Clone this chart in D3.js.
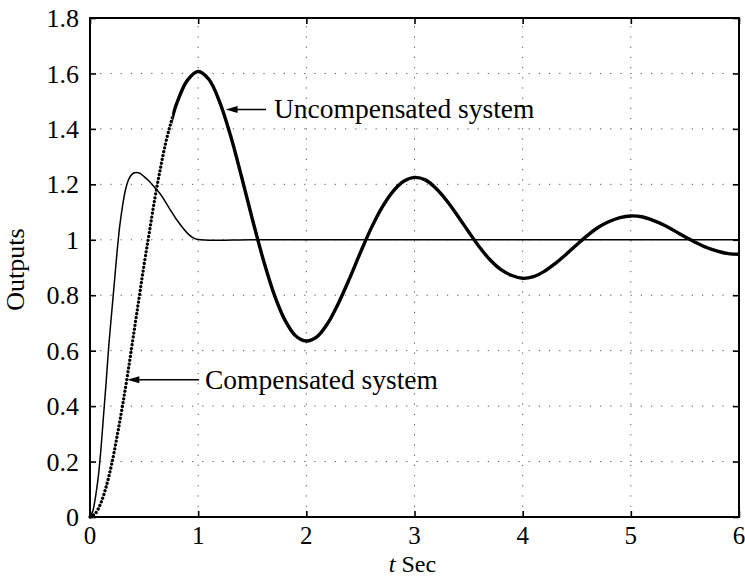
<!DOCTYPE html>
<html><head><meta charset="utf-8">
<script src="https://cdn.jsdelivr.net/npm/d3@7"></script>
<style>
html,body{margin:0;padding:0;background:#fff;}
svg{display:block;}
text{font-family:"Liberation Serif","Times New Roman",serif;fill:#000;}
</style></head>
<body><svg id="chart" width="745" height="578"></svg>
<script>
// ---- data ----
const xTicks = [0, 1, 2, 3, 4, 5, 6];
const yTicks = [0, 0.2, 0.4, 0.6, 0.8, 1, 1.2, 1.4, 1.6, 1.8];
const yTickLabels = ["0", "0.2", "0.4", "0.6", "0.8", "1", "1.2", "1.4", "1.6", "1.8"];

// Uncompensated system (thick line)
const uncompT = [0,0.05,0.1,0.15,0.2,0.25,0.3,0.35,0.4,0.45,0.5,0.55,0.6,0.65,0.7,0.75,0.8,0.9,1.0,
  1.1,1.2,1.3,1.4,1.5,1.6,1.7,1.8,1.9,2.0,2.1,2.2,2.3,2.4,2.5,2.6,2.7,2.8,2.9,3.0,
  3.1,3.2,3.3,3.4,3.5,3.6,3.7,3.8,3.9,4.0,4.1,4.2,4.3,4.4,4.5,4.6,4.7,4.8,4.9,5.0,
  5.1,5.2,5.3,5.4,5.5,5.6,5.7,5.8,5.9,6.0];
const uncompY = [0,0.013,0.05,0.11,0.19,0.29,0.40,0.52,0.65,0.78,0.91,1.03,1.15,1.255,1.35,1.425,1.49,1.575,1.607,
  1.578,1.496,1.375,1.229,1.076,0.931,0.806,0.712,0.654,0.635,0.651,0.700,0.774,0.861,0.954,1.042,1.117,1.174,1.211,1.225,
  1.216,1.185,1.140,1.086,1.029,0.974,0.927,0.892,0.871,0.861,0.867,0.886,0.914,0.947,0.982,1.016,1.045,1.066,1.080,1.086,
  1.083,1.071,1.054,1.033,1.011,0.990,0.972,0.959,0.950,0.948];
const uncompDottedUntil = 0.76;

// Compensated system (thin line)
const compT = [0,0.025,0.05,0.075,0.1,0.125,0.15,0.175,0.2,0.225,0.25,0.275,0.3,0.325,0.35,0.375,0.4,0.43,0.46,
  0.5,0.55,0.6,0.65,0.7,0.75,0.8,0.85,0.9,0.95,1.0,1.5,2,3,4,5,6];
const compY = [0,0.02,0.07,0.14,0.24,0.365,0.49,0.625,0.735,0.845,0.955,1.05,1.12,1.175,1.21,1.23,1.24,1.243,1.24,
  1.228,1.21,1.188,1.165,1.135,1.103,1.073,1.047,1.024,1.008,1.001,1.0,1.0,1.0,1.0,1.0,1.0];

const xLabel = "Sec";
const yLabel = "Outputs";
const noteUncomp = "Uncompensated system";
const noteComp = "Compensated system";

// ---- drawing ----
const svg = d3.select("#chart");
const L = 90, R = 739, T = 18, B = 517;
const x = d3.scaleLinear().domain([0, 6]).range([L, R]);
const y = d3.scaleLinear().domain([0, 1.8]).range([B, T]);

// grid (sparse dots)
const grid = svg.append("g").attr("stroke", "#555").attr("stroke-width", 1)
  .attr("stroke-dasharray", "1.2,9").attr("fill", "none");
xTicks.slice(1, -1).forEach(v => grid.append("line")
  .attr("x1", x(v)).attr("x2", x(v)).attr("y1", B).attr("y2", T));
yTicks.slice(1, -1).forEach(v => grid.append("line")
  .attr("x1", L).attr("x2", R).attr("y1", y(v)).attr("y2", y(v)));

// axes with inward ticks on all sides
const fmtY = (d) => yTickLabels[yTicks.indexOf(d)];
const axL = svg.append("g").attr("transform", `translate(${L},0)`)
  .call(d3.axisRight(y).tickValues(yTicks).tickSize(6).tickFormat(""));
const axR = svg.append("g").attr("transform", `translate(${R},0)`)
  .call(d3.axisLeft(y).tickValues(yTicks).tickSize(6).tickFormat(""));
const axB = svg.append("g").attr("transform", `translate(0,${B})`)
  .call(d3.axisTop(x).tickValues(xTicks).tickSize(6).tickFormat(""));
const axT = svg.append("g").attr("transform", `translate(0,${T})`)
  .call(d3.axisBottom(x).tickValues(xTicks).tickSize(6).tickFormat(""));
[axL, axR, axB, axT].forEach(a => {
  a.select(".domain").remove();
  a.selectAll(".tick line").attr("stroke", "#000").attr("stroke-width", 1.6);
});
svg.append("rect").attr("x", L).attr("y", T).attr("width", R - L).attr("height", B - T)
  .attr("fill", "none").attr("stroke", "#000").attr("stroke-width", 2);

// tick labels
svg.append("g").selectAll("text").data(yTicks).join("text")
  .attr("x", L - 11).attr("y", d => y(d)).attr("dy", "0.35em")
  .attr("text-anchor", "end").attr("font-size", 26).text(fmtY);
svg.append("g").selectAll("text").data(xTicks).join("text")
  .attr("x", d => x(d)).attr("y", B + 27)
  .attr("text-anchor", "middle").attr("font-size", 25).text(d => String(d));

// axis titles
const xt = svg.append("text").attr("x", (L + R) / 2 - 2).attr("y", 572)
  .attr("text-anchor", "middle").attr("font-size", 24);
xt.append("tspan").attr("font-style", "italic").text("t");
xt.append("tspan").text(" " + xLabel);
svg.append("text").attr("transform", `translate(24,${(T + B) / 2 + 2}) rotate(-90)`)
  .attr("text-anchor", "middle").attr("font-size", 26).text(yLabel);

// curves
const uncomp = uncompT.map((t, i) => ({t, v: uncompY[i]}));
const comp = compT.map((t, i) => ({t, v: compY[i]}));
const line = d3.line().x(d => x(d.t)).y(d => y(d.v)).curve(d3.curveCatmullRom.alpha(0.5));

svg.append("path").datum(comp).attr("d", line).attr("fill", "none")
  .attr("stroke", "#000").attr("stroke-width", 1.5);

const dottedPart = uncomp.filter(d => d.t <= 0.8);
const solidPart = uncomp.filter(d => d.t >= 0.7);
const clipId = "clipDot";
svg.append("clipPath").attr("id", clipId).append("rect")
  .attr("x", L - 5).attr("y", 0).attr("width", x(uncompDottedUntil) - L + 5).attr("height", 578);
svg.append("path").datum(dottedPart).attr("d", line).attr("fill", "none")
  .attr("stroke", "#000").attr("stroke-width", 3.3).attr("stroke-linecap", "round")
  .attr("stroke-dasharray", "0.01,3.9").attr("clip-path", `url(#${clipId})`);

svg.append("clipPath").attr("id", "clipSolid").append("rect")
  .attr("x", x(uncompDottedUntil)).attr("y", 0).attr("width", R - x(uncompDottedUntil) + 2).attr("height", 578);
svg.append("path").datum(solidPart).attr("d", line).attr("fill", "none")
  .attr("stroke", "#000").attr("stroke-width", 3.4).attr("stroke-linejoin", "round")
  .attr("clip-path", "url(#clipSolid)");

// annotations with arrows
function arrow(x1, y1, x2, y2) { // from tail (x1,y1) to tip (x2,y2)
  svg.append("line").attr("x1", x1).attr("y1", y1).attr("x2", x2 + 8).attr("y2", y2)
    .attr("stroke", "#000").attr("stroke-width", 1.4);
  svg.append("path").attr("d", `M${x2},${y2} L${x2 + 12},${y2 - 3.5} L${x2 + 12},${y2 + 3.5} Z`)
    .attr("fill", "#000");
}
const tipU = {t: 1.235, v: 1.47};
arrow(266, y(tipU.v), x(tipU.t) + 2, y(tipU.v));
svg.append("text").attr("x", 274).attr("y", y(tipU.v) + 9).attr("font-size", 27.5).text(noteUncomp);
const tipC = {t: 0.345, v: 0.495};
arrow(199, y(tipC.v), x(tipC.t), y(tipC.v));
svg.append("text").attr("x", 205).attr("y", y(tipC.v) + 9).attr("font-size", 27.5).text(noteComp);
</script></body></html>
